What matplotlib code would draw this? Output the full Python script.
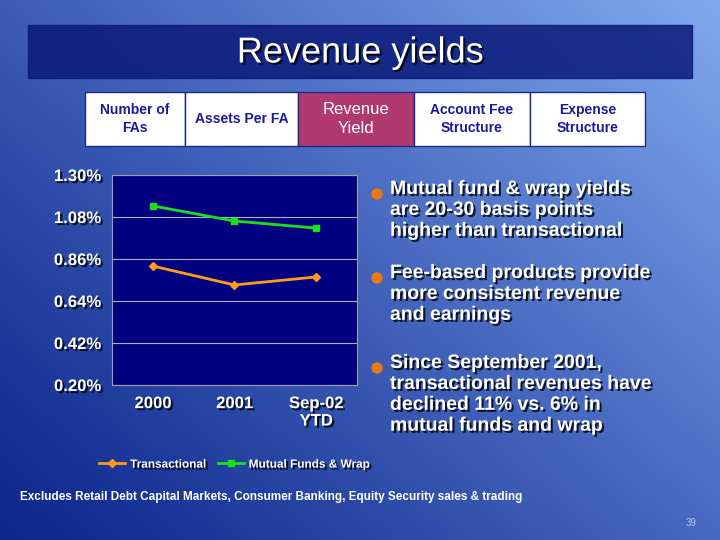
import numpy as np
import matplotlib.pyplot as plt
import matplotlib.patheffects as pe
from matplotlib.patches import Rectangle, Circle

years = ['2000', '2001', 'Sep-02\nYTD']
transactional = [0.823, 0.724, 0.766]
mutual_wrap = [1.138, 1.059, 1.022]
yticks = [0.20, 0.42, 0.64, 0.86, 1.08, 1.30]
tabs = ['Number of\nFAs', 'Assets Per FA', 'Revenue\nYield', 'Account Fee\nStructure', 'Expense\nStructure']
bullets = ['Mutual fund & wrap yields\nare 20-30 basis points\nhigher than transactional',
           'Fee-based products provide\nmore consistent revenue\nand earnings',
           'Since September 2001,\ntransactional revenues have\ndeclined 11% vs. 6% in\nmutual funds and wrap']

W, H = 720, 540
fig = plt.figure(figsize=(7.2, 5.4), dpi=100)
plt.rcParams['font.family'] = ['Liberation Sans', 'DejaVu Sans']

# background gradient
bg = fig.add_axes([0, 0, 1, 1])
yy, xx = np.mgrid[0:1:200j, 0:1:200j]
g = 0.55 * xx + 0.45 * (1 - yy)
base = np.array([0.05, 0.15, 0.55])
light = np.array([0.5, 0.66, 0.94])
img = base + (light - base) * g[..., None] ** 1.1
bg.imshow(img, extent=[0, W, H, 0], aspect='auto')
bg.set_xlim(0, W); bg.set_ylim(H, 0); bg.axis('off')

shadow = [pe.withSimplePatchShadow(offset=(1.5, -1.5), shadow_rgbFace='black', alpha=0.8)]

bg.add_patch(Rectangle((28, 25), 664, 53, color='#0A1A7A', alpha=0.85))
bg.text(360, 53, 'Revenue yields', color='white', fontsize=26, ha='center', va='center',
        path_effects=shadow)

edges = [85, 185, 298, 414, 530, 645]
for i, t in enumerate(tabs):
    sel = i == 2
    bg.add_patch(Rectangle((edges[i], 92), edges[i + 1] - edges[i], 54,
                           facecolor='#B03A70' if sel else 'white', edgecolor='#1A2A8A', lw=1))
    bg.text((edges[i] + edges[i + 1]) / 2, 119, t, ha='center', va='center',
            color='white' if sel else '#1A1A9A', fontsize=12 if sel else 10,
            fontweight='normal' if sel else 'bold', linespacing=1.3)

by = [193, 277, 367]
for y, t in zip(by, bullets):
    bg.add_patch(Circle((377, y + 1), 5, color='#E87A10'))
    bg.text(390, y - 12, t, color='white', fontsize=14, fontweight='bold', va='top',
            linespacing=1.3, path_effects=shadow)

bg.text(20, 497, 'Excludes Retail Debt Capital Markets, Consumer Banking, Equity Security sales & trading',
        color='white', fontsize=8.5, fontweight='bold', va='center')
bg.text(697, 523, '39', color='#AFC4F0', fontsize=7, ha='right', va='center')

ax = fig.add_axes([112 / W, 1 - 385 / H, 245 / W, 210 / H])
ax.set_facecolor('#000080')
x = np.arange(len(years))
ax.plot(x, transactional, color='#FF9A1A', lw=2, marker='D', ms=4, label='Transactional')
ax.plot(x, mutual_wrap, color='#1AE01A', lw=2, marker='s', ms=5, label='Mutual Funds & Wrap')
ax.set_xlim(-0.5, 2.5)
ax.set_ylim(0.20, 1.30)
ax.set_yticks(yticks)
ax.set_yticklabels([f'{v:.2f}%' for v in yticks])
ax.set_xticks(x)
ax.set_xticklabels(years)
ax.grid(axis='y', color='#B0B0C0', lw=0.8)
ax.tick_params(colors='white', length=0, labelsize=12, pad=8)
for lab in ax.get_xticklabels() + ax.get_yticklabels():
    lab.set_fontweight('bold')
    lab.set_path_effects(shadow)
for s in ax.spines.values():
    s.set_color('#A0A0A0')
leg = ax.legend(loc='upper center', bbox_to_anchor=(0.5, -0.3), ncol=2, frameon=False,
                fontsize=8.5, handlelength=2.2, handletextpad=0.4, columnspacing=1.0)
for t in leg.get_texts():
    t.set_color('white'); t.set_fontweight('bold')
    t.set_path_effects(shadow)

fig.savefig('out.png', dpi=100)
